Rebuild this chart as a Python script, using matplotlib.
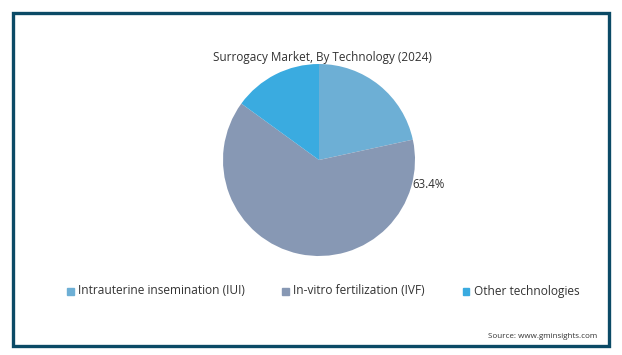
import matplotlib
matplotlib.use("Agg")
from matplotlib import pyplot as plt
from matplotlib.patches import Rectangle
import numpy as np

plt.rcParams['font.family'] = ['Open Sans', 'DejaVu Sans']

# data
technologies = ['Intrauterine insemination (IUI)', 'In-vitro fertilization (IVF)', 'Other technologies']
shares = [21.6, 63.4, 15.0]
colors = ['#6DAFD5', '#8798B4', '#3AABE0']
title = 'Surrogacy Market, By Technology (2024)'
source = 'Source: www.gminsights.com'

W, H = 622, 355
fig = plt.figure(figsize=(W / 100, H / 100), dpi=100)

# dark frame around the whole card
frame = Rectangle((12.5 / W, (H - 345.5) / H), 596 / W, 333 / H,
                  transform=fig.transFigure, fill=False,
                  edgecolor='#0B4A66', linewidth=2.4)
fig.patches.append(frame)

# pie centred at (319, 160) px, radius 96 px
cx, cy, r = 319, 160, 96
ax = fig.add_axes([(cx - r) / W, (H - cy - r) / H, 2 * r / W, 2 * r / H])
wedges, _ = ax.pie(shares, colors=colors, startangle=90, counterclock=False,
                   radius=1.0)
ax.set_xlim(-1, 1)
ax.set_ylim(-1, 1)
ax.set_aspect('equal')

# only the IVF share is labelled, next to its start edge
ang = np.deg2rad(-13)
ax.text(1.15 * np.cos(ang) - 0.15, 1.15 * np.sin(ang), f'{shares[1]}%',
        ha='left', va='center', fontsize=8.3, color='#333333')

fig.text(322.5 / W, 1 - 57 / H, title, ha='center', va='center',
         fontsize=8.5, color='#333333')

# legend as a row of squares + labels
leg_x = [67, 282, 463]
for x, name, c in zip(leg_x, technologies, colors):
    fig.patches.append(Rectangle((x / W, (H - 294.5) / H), 6.5 / W, 6.5 / H,
                                 transform=fig.transFigure, color=c))
    fig.text((x + 11) / W, 1 - 291 / H, name, ha='left', va='center',
             fontsize=8.6, color='#333333')

fig.text(597 / W, 1 - 336 / H, source, ha='right', va='center',
         fontsize=5.8, color='#333333')

fig.savefig('out.png', dpi=100)
